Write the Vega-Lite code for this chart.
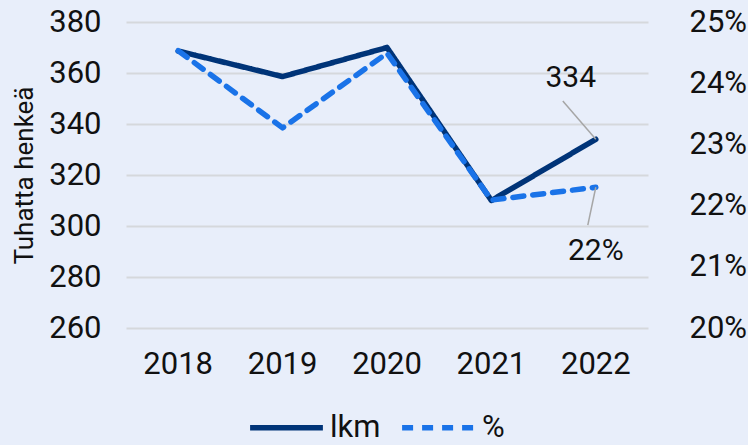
{
  "$schema": "https://vega.github.io/schema/vega-lite/v6.json",
  "width": 522,
  "height": 306,
  "autosize": {"type": "none"},
  "padding": {"left": 126, "top": 22, "right": 100, "bottom": 117},
  "background": "#E8EEFA",
  "config": {
    "view": {"stroke": null},
    "font": "Roboto",
    "axis": {"labelFont": "Roboto", "labelFontSize": 31, "labelColor": "#111111", "domain": false, "ticks": false, "titleFont": "Roboto", "titleFontWeight": "normal", "titleColor": "#111111"},
    "legend": {"labelFont": "Roboto", "labelFontSize": 31, "labelColor": "#111111"}
  },
  "data": {
    "values": [
      {"year": "2018", "lkm": 368.6, "pct": 0.2453},
      {"year": "2019", "lkm": 358.6, "pct": 0.2327},
      {"year": "2020", "lkm": 370.0, "pct": 0.2449},
      {"year": "2021", "lkm": 310.0, "pct": 0.2209},
      {"year": "2022", "lkm": 334.0, "pct": 0.2230}
    ]
  },
  "encoding": {
    "x": {"field": "year", "type": "nominal", "scale": {"type": "band", "paddingInner": 0, "paddingOuter": 0},
      "axis": {"title": null, "labelAngle": 0, "labelPadding": 21, "grid": false}}
  },
  "layer": [
    {
      "layer": [
        {
          "mark": {"type": "line", "strokeWidth": 5.5, "strokeCap": "round", "strokeJoin": "round"},
          "encoding": {
            "y": {"field": "lkm", "type": "quantitative", "scale": {"domain": [260, 380], "nice": false, "zero": false},
              "axis": {"title": "Tuhatta henkeä", "titleFontSize": 26, "titlePadding": 11, "values": [260, 280, 300, 320, 340, 360, 380], "labelPadding": 25, "grid": true, "gridColor": "#D5D8DC", "gridWidth": 2}},
            "color": {"datum": "lkm", "type": "nominal", "scale": {"domain": ["lkm", "%"], "range": ["#003478", "#1A73E8"]},
              "legend": {"title": null, "orient": "none", "legendX": 121, "legendY": 366, "direction": "horizontal", "symbolType": "stroke", "symbolSize": 5300, "symbolStrokeWidth": 5.5, "labelOffset": 4, "columnPadding": 10, "labelBaseline": "middle"}},
            "strokeDash": {"datum": "lkm", "type": "nominal", "scale": {"domain": ["lkm", "%"], "range": [[1, 0], [11, 9]]}, "legend": null}
          }
        },
        {
          "transform": [{"filter": "datum.year == '2022'"}, {"calculate": "349", "as": "ly2"}],
          "mark": {"type": "rule", "color": "#A6A6A6", "strokeWidth": 1.5, "x2Offset": -33},
          "encoding": {
            "y": {"field": "lkm", "type": "quantitative"},
            "x2": {"field": "year"},
            "y2": {"field": "ly2"}
          }
        },
        {
          "transform": [{"filter": "datum.year == '2022'"}, {"calculate": "358", "as": "ty"}],
          "mark": {"type": "text", "fontSize": 30, "font": "Roboto", "color": "#111111", "dx": -25, "baseline": "middle"},
          "encoding": {
            "y": {"field": "ty", "type": "quantitative"},
            "text": {"field": "lkm", "type": "quantitative", "format": "d"}
          }
        }
      ]
    },
    {
      "layer": [
        {
          "mark": {"type": "line", "strokeWidth": 5.5, "strokeCap": "round", "strokeJoin": "round"},
          "encoding": {
            "y": {"field": "pct", "type": "quantitative", "scale": {"domain": [0.20, 0.25], "nice": false, "zero": false},
              "axis": {"orient": "right", "title": null, "format": ".0%", "values": [0.20, 0.21, 0.22, 0.23, 0.24, 0.25], "labelPadding": 41, "grid": false}},
            "color": {"datum": "%", "type": "nominal"},
            "strokeDash": {"datum": "%", "type": "nominal"}
          }
        },
        {
          "transform": [{"filter": "datum.year == '2022'"}, {"calculate": "0.2168", "as": "ly2"}],
          "mark": {"type": "rule", "color": "#A6A6A6", "strokeWidth": 1.5, "x2Offset": -8},
          "encoding": {
            "y": {"field": "pct", "type": "quantitative"},
            "x2": {"field": "year"},
            "y2": {"field": "ly2"}
          }
        },
        {
          "transform": [{"filter": "datum.year == '2022'"}, {"calculate": "0.2126", "as": "ty"}],
          "mark": {"type": "text", "fontSize": 30, "font": "Roboto", "color": "#111111", "dx": 0, "baseline": "middle"},
          "encoding": {
            "y": {"field": "ty", "type": "quantitative"},
            "text": {"field": "pct", "type": "quantitative", "format": ".0%"}
          }
        }
      ]
    }
  ],
  "resolve": {"scale": {"y": "independent", "color": "shared", "strokeDash": "shared"}}
}
